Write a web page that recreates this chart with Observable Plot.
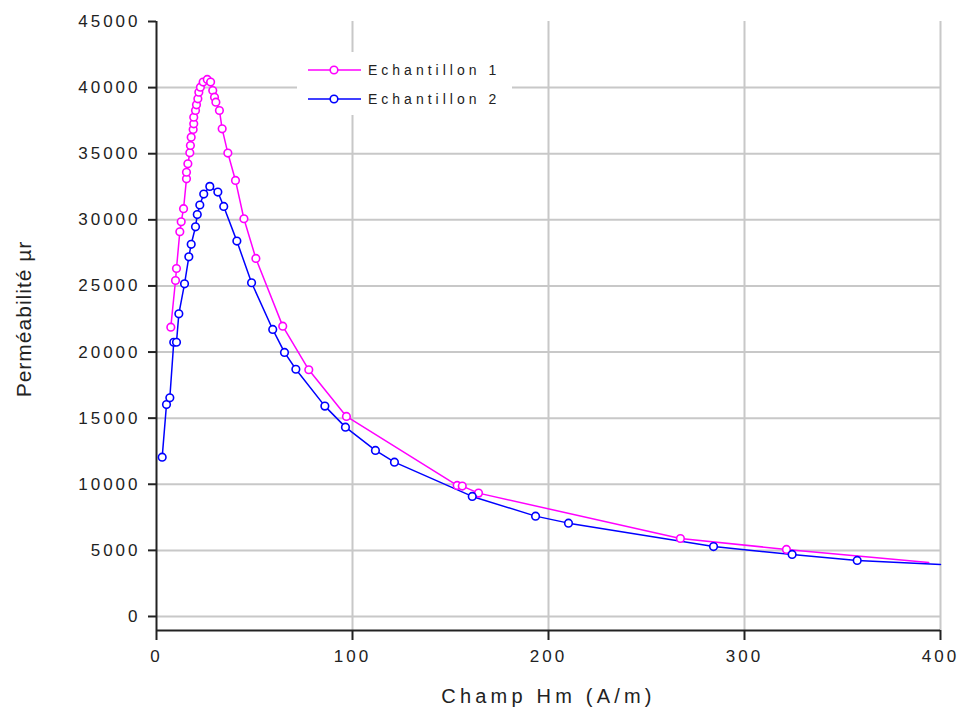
<!DOCTYPE html>
<html><head><meta charset="utf-8">
<script src="https://cdn.jsdelivr.net/npm/d3@7"></script>
<script src="https://cdn.jsdelivr.net/npm/@observablehq/plot@0.6"></script>
<style>
html,body{margin:0;padding:0;background:#fff;}
#wrap{position:relative;width:962px;height:714px;overflow:hidden;}
#wrap > svg{position:absolute;left:0;top:0;}
#legend{position:absolute;left:297px;top:52px;width:215px;height:63px;background:#fff;
  font-family:"Liberation Sans",Arial,sans-serif;font-size:14px;letter-spacing:4px;color:#222;}
#legend .row{position:absolute;left:0;height:20px;display:flex;align-items:center;}
#legend svg{position:static;margin-left:11px;margin-right:7px;}
</style></head><body><div id="wrap"></div>
<script>
const seriesNames = ["Echantillon 1", "Echantillon 2"];
const seriesColors = ["#ff00ff", "#0000ff"];

// Echantillon 1 : champ Hm (A/m) et perméabilité µr
const h1  = [7.3, 9.7, 10.2, 11.9, 12.6, 13.8, 15.3, 15.3, 16.0, 17.0, 17.3, 17.7, 18.7, 19.0, 19.0, 19.9, 20.4, 21.1, 21.6, 22.4, 23.8, 25.9, 27.6, 28.7, 29.6, 30.3, 32.1, 33.5, 36.4, 40.3, 44.6, 50.7, 64.4, 77.7, 96.9, 153.4, 156.0, 164.3, 267.3, 321.4, 394];
const mu1 = [21880, 25410, 26320, 29100, 29850, 30840, 33100, 33600, 34240, 35070, 35620, 36250, 36830, 37260, 37760, 38270, 38700, 39150, 39650, 40030, 40420, 40620, 40420, 39780, 39280, 38900, 38270, 36880, 35050, 32980, 30080, 27080, 21960, 18660, 15130, 9910, 9860, 9330, 5900, 5070, 4080];

// Echantillon 2
const h2  = [2.9, 5.1, 6.8, 8.8, 10.2, 11.4, 14.3, 16.5, 17.7, 19.9, 20.8, 22.1, 24.1, 27.2, 31.3, 34.3, 41.0, 48.5, 59.3, 65.3, 71.1, 85.9, 96.4, 111.7, 121.4, 161.1, 193.4, 210.2, 284.2, 324.3, 357.5, 400];
const mu2 = [12050, 16030, 16540, 20740, 20740, 22890, 25160, 27200, 28150, 29470, 30400, 31120, 31950, 32530, 32100, 31010, 28390, 25240, 21710, 19970, 18700, 15910, 14320, 12560, 11670, 9080, 7590, 7060, 5290, 4690, 4240, 3930];

const xTicks = [0, 100, 200, 300, 400];
const yTicks = [0, 5000, 10000, 15000, 20000, 25000, 30000, 35000, 40000, 45000];
const xTitle = "Champ Hm (A/m)";
const yTitle = "Perméabilité µr";
const xDomain = [0, 400];
const yDomain = [-1060, 45000];

const data = [
  ...h1.map((h, i) => ({h, mu: mu1[i], s: seriesNames[0], end: i === h1.length - 1})),
  ...h2.map((h, i) => ({h, mu: mu2[i], s: seriesNames[1], end: i === h2.length - 1}))
];

const axisColor = "#222";
const gridColor = "#c8c8c8";

const chart = Plot.plot({
  width: 962, height: 714,
  marginLeft: 156, marginRight: 22, marginTop: 21, marginBottom: 84,
  x: {domain: xDomain},
  y: {domain: yDomain},
  color: {domain: seriesNames, range: seriesColors},
  style: {fontFamily: "'Liberation Sans', Arial, sans-serif", background: "white", color: axisColor},
  marks: [
    Plot.gridY(yTicks.slice(0, -1), {stroke: gridColor, strokeOpacity: 1, strokeWidth: 2}),
    Plot.gridX(xTicks.slice(1), {stroke: gridColor, strokeOpacity: 1, strokeWidth: 2}),
    Plot.ruleX([xDomain[0]], {y1: yDomain[0], y2: yDomain[1], stroke: axisColor, strokeWidth: 2}),
    Plot.ruleY([yDomain[0]], {x1: xDomain[0], x2: xDomain[1], stroke: axisColor, strokeWidth: 2}),
    Plot.axisY(yTicks, {tickSize: 8, tickPadding: 8, label: null, fontSize: 17, strokeWidth: 2, tickFormat: d => String(d)}),
    Plot.axisX(xTicks, {tickSize: 10, tickPadding: 9, label: null, fontSize: 17, strokeWidth: 2, tickFormat: d => String(d)}),
    Plot.line(data, {x: "h", y: "mu", z: "s", stroke: "s", strokeWidth: 1.5}),
    Plot.dot(data, {filter: d => !d.end, x: "h", y: "mu", stroke: "s", fill: "white", r: 3.8, strokeWidth: 1.6}),
    Plot.text([xTitle], {frameAnchor: "bottom", dy: 72, fontSize: 20, fill: axisColor}),
    Plot.text([yTitle], {frameAnchor: "left", textAnchor: "middle", rotate: -90, dx: -132, dy: -7, fontSize: 21, fill: axisColor})
  ]
});
const wrap = document.getElementById("wrap");
wrap.appendChild(chart);

chart.querySelectorAll('g[aria-label="y-axis tick label"] text').forEach(t => { t.style.letterSpacing = "3px"; });
chart.querySelectorAll('g[aria-label="x-axis tick label"] text').forEach(t => { t.style.letterSpacing = "3px"; });
chart.querySelectorAll("text").forEach(t => {
  if (t.textContent === xTitle) t.style.letterSpacing = "4.2px";
  else if (t.textContent === yTitle) t.style.letterSpacing = "1px";
});

// legend
const legend = document.createElement("div");
legend.id = "legend";
seriesNames.forEach((name, i) => {
  const row = document.createElement("div");
  row.className = "row";
  row.style.top = (8 + i * 29) + "px";
  const sw = d3.create("svg").attr("width", 53).attr("height", 10);
  sw.append("line").attr("x1", 0).attr("x2", 53).attr("y1", 5).attr("y2", 5)
    .attr("stroke", seriesColors[i]).attr("stroke-width", 1.6);
  sw.append("circle").attr("cx", 26).attr("cy", 5).attr("r", 3.8)
    .attr("fill", "white").attr("stroke", seriesColors[i]).attr("stroke-width", 1.6);
  row.appendChild(sw.node());
  const lab = document.createElement("span");
  lab.textContent = name;
  row.appendChild(lab);
  legend.appendChild(row);
});
wrap.appendChild(legend);
</script></body></html>
